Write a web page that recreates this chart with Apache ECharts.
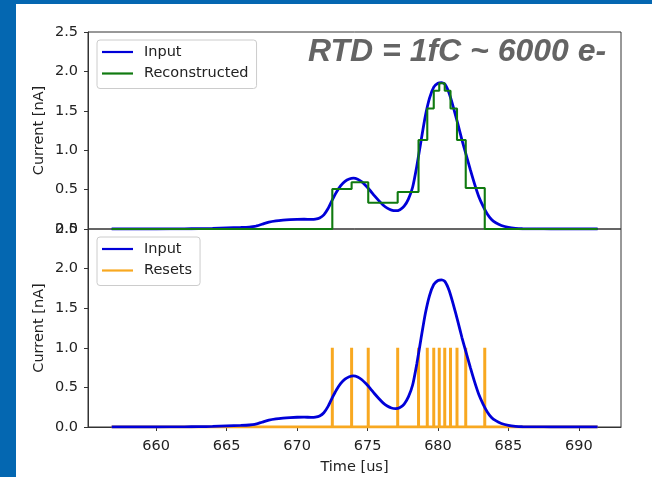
<!DOCTYPE html>
<html>
<head>
<meta charset="utf-8">
<script src="https://cdn.jsdelivr.net/npm/echarts@6/dist/echarts.min.js"></script>
<style>
html,body{margin:0;padding:0;background:#0467b1;}
#chart{width:652px;height:477px;}
</style>
</head>
<body>
<div id="chart"></div>
<script>
// ---- data ----
const inputT = [656.84,660,662,663,664,665,666,666.6,667.0,667.5,668.0,668.5,669.0,669.5,670.0,670.5,671.0,671.3,671.6,671.9,672.2,672.5,672.8,673.1,673.4,673.7,674.0,674.3,674.6,674.9,675.2,675.5,675.8,676.1,676.4,676.7,677.0,677.3,677.6,677.9,678.2,678.5,678.8,679.1,679.4,679.7,680.0,680.25,680.5,680.8,681.1,681.4,681.7,682.0,682.3,682.6,682.9,683.2,683.5,683.8,684.1,684.5,685.0,685.5,686,687,688,691.33];
const inputI = [0,0,0.002,0.004,0.008,0.014,0.02,0.025,0.033,0.06,0.088,0.104,0.113,0.119,0.123,0.124,0.122,0.125,0.14,0.18,0.26,0.37,0.47,0.55,0.605,0.635,0.645,0.632,0.597,0.545,0.485,0.42,0.36,0.305,0.265,0.24,0.232,0.245,0.29,0.38,0.53,0.8,1.12,1.43,1.66,1.8,1.85,1.857,1.835,1.72,1.54,1.34,1.13,0.94,0.75,0.57,0.41,0.29,0.19,0.12,0.08,0.045,0.02,0.008,0.003,0.001,0,0];
const resetTimes = [672.50,673.87,675.05,677.14,678.62,679.24,679.70,680.09,680.48,680.89,681.35,681.97,683.32];
const recoLevels = [0.508,0.593,0.334,0.47,1.13,1.53,1.755,1.85,1.755,1.53,1.13,0.52];
const resetHeight = 1.0;
const tStart = 656.84, tEnd = 691.33;
const xTicks = [660,665,670,675,680,685,690];
const yTicks = [0,0.5,1.0,1.5,2.0,2.5];
const legendTop = ['Input','Reconstructed'];
const legendBottom = ['Input','Resets'];
const annotation = 'RTD = 1fC ~ 6000 e-';

// ---- build series data ----
const inputData = inputT.map((t,i)=>[t,inputI[i]]);
const recoData = [[tStart,0]];
resetTimes.forEach((t,i)=>{ recoData.push([t, i<recoLevels.length ? recoLevels[i] : 0]); });
recoData.push([tEnd,0]);
const resetData = [[tStart,0]];
resetTimes.forEach(t=>{ resetData.push([t,0],[t,resetHeight],[t,0]); });
resetData.push([tEnd,0]);

const XMIN = 655.16, XMAX = 692.99;
const FONT = 'DejaVu Sans';
const FS = 14.5;
const axisCol = '#333';
const txtCol = '#222';
const BLUE = '#0000d8', GREEN = '#107a10', ORANGE = '#f8a820';

function yAxisCfg(gi){
  return {
    type:'value', gridIndex:gi, min:0, max:2.5, interval:0.5,
    name:'Current [nA]', nameLocation:'middle', nameGap:41, nameMoveOverlap:false,
    nameTextStyle:{fontFamily:FONT,fontSize:FS,color:txtCol},
    axisLine:{show:true,lineStyle:{color:axisCol,width:1}},
    axisTick:{show:true,length:4,lineStyle:{color:axisCol}},
    axisLabel:{fontFamily:FONT,fontSize:FS,color:txtCol,margin:10,formatter:v=>v.toFixed(1)},
    splitLine:{show:false}
  };
}
function legendCfg(data,colors,top){
  return {
    data:data.map((n,i)=>({name:n,icon:'rect',itemStyle:{color:colors[i]}})),
    orient:'vertical', left:97, top:top,
    itemWidth:31, itemHeight:2.2, itemGap:1.5,
    padding:[2,8,5,5], borderColor:'#cccccc', borderWidth:1, borderRadius:3,
    backgroundColor:'rgba(255,255,255,0.85)',
    textStyle:{fontFamily:FONT,fontSize:FS,color:txtCol,lineHeight:20,padding:[0,0,0,6]},
    selectedMode:false
  };
}

const chart = echarts.init(document.getElementById('chart'),null,{renderer:'canvas'});
chart.setOption({
  animation:false,
  backgroundColor:'#0467b1',
  graphic:[
    {type:'rect',z:-100,shape:{x:16,y:4,width:636,height:473},style:{fill:'#ffffff'}},
    {type:'text',z:100,x:308,y:52,style:{text:annotation,font:'italic bold 32px "Liberation Sans"',fill:'#646464',verticalAlign:'middle',align:'left'}}
  ],
  grid:[
    {left:88,top:32,width:533,height:197,show:true,borderColor:axisCol,borderWidth:1,backgroundColor:'transparent'},
    {left:88,top:229,width:533,height:198,show:true,borderColor:axisCol,borderWidth:1,backgroundColor:'transparent'}
  ],
  xAxis:[
    {type:'value',gridIndex:0,min:XMIN,max:XMAX,axisLine:{show:false},axisTick:{show:false},axisLabel:{show:false},splitLine:{show:false}},
    {type:'value',gridIndex:1,min:XMIN,max:XMAX,
     name:'Time [us]',nameLocation:'middle',nameGap:33,nameMoveOverlap:false,
     nameTextStyle:{fontFamily:FONT,fontSize:FS,color:txtCol},
     axisLine:{show:true,onZero:false,lineStyle:{color:axisCol}},
     axisTick:{show:true,length:4,customValues:xTicks,lineStyle:{color:axisCol}},
     axisLabel:{fontFamily:FONT,fontSize:FS,color:txtCol,margin:12,customValues:xTicks},
     splitLine:{show:false}}
  ],
  yAxis:[yAxisCfg(0),yAxisCfg(1)],
  legend:[legendCfg(legendTop,[BLUE,GREEN],40),legendCfg(legendBottom,[BLUE,ORANGE],237)],
  series:[
    {name:'Input',type:'line',xAxisIndex:0,yAxisIndex:0,data:inputData,symbol:'none',smooth:0.2,
     lineStyle:{color:BLUE,width:2.8},itemStyle:{color:BLUE},z:2},
    {name:'Reconstructed',type:'line',xAxisIndex:0,yAxisIndex:0,data:recoData,symbol:'none',step:'end',
     lineStyle:{color:GREEN,width:2.1},itemStyle:{color:GREEN},z:3},
    {name:'Input',type:'line',xAxisIndex:1,yAxisIndex:1,data:inputData,symbol:'none',smooth:0.2,
     lineStyle:{color:BLUE,width:2.8},itemStyle:{color:BLUE},z:3},
    {name:'Resets',type:'line',xAxisIndex:1,yAxisIndex:1,data:resetData,symbol:'none',
     lineStyle:{color:ORANGE,width:3},itemStyle:{color:ORANGE},z:2}
  ]
});
</script>
</body>
</html>
